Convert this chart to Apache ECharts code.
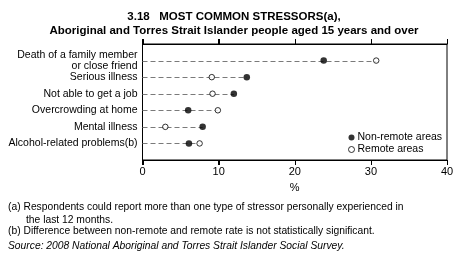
<!DOCTYPE html>
<html>
<head>
<meta charset="utf-8">
<script src="https://cdn.jsdelivr.net/npm/echarts@6/dist/echarts.min.js"></script>
<style>
  html, body { margin: 0; padding: 0; background: #fff; }
  #chart { width: 460px; height: 260px; }
</style>
</head>
<body>
<div id="chart"></div>
<script>
// stressor categories, top to bottom
var categories = [
    "Death of a family member\nor close friend",
    "Serious illness",
    "Not able to get a job",
    "Overcrowding at home",
    "Mental illness",
    "Alcohol-related problems(b)"
];
// percent values
var nonRemote = [23.8, 13.7, 12.0, 6.0, 7.9, 6.1];
var remote = [30.7, 9.1, 9.2, 9.9, 3.0, 7.5];
var xTicks = [0, 10, 20, 30, 40];

var font = "Liberation Sans";
var yMin = -1, yMax = 6;

function pairs(vals) {
    let out = [];
    for (let i = 0; i < vals.length; i++) {
        out.push([vals[i], i]);
    }
    return out;
}

// dashed guide runs from 0 to the bigger of the two values
var guideData = [];
for (let i = 0; i < categories.length; i++) {
    guideData.push([Math.max(nonRemote[i], remote[i]), i]);
}

var dom = document.getElementById("chart");
var myChart = echarts.init(dom, null, {renderer: "canvas"});

var option = {
    animation: false,
    backgroundColor: "#fff",
    textStyle: {fontFamily: font, color: "#000"},
    title: {
        text: "3.18   MOST COMMON STRESSORS(a),\nAboriginal and Torres Strait Islander people aged 15 years and over",
        left: 229,
        top: 5,
        textAlign: "center",
        textStyle: {fontFamily: font, fontSize: 11.5, fontWeight: "bold", color: "#000", lineHeight: 14}
    },
    grid: {
        left: 142.5,
        right: 13,
        top: 44,
        bottom: 100,
        show: true,
        borderColor: "#000",
        borderWidth: 1,
        backgroundColor: "transparent"
    },
    xAxis: [
        {
            type: "value",
            position: "bottom",
            min: xTicks[0],
            max: xTicks[xTicks.length - 1],
            interval: 10,
            axisLine: {show: true, onZero: false, lineStyle: {color: "#000", width: 1}},
            axisTick: {show: true, length: 5, lineStyle: {color: "#000"}},
            axisLabel: {fontFamily: font, fontSize: 11, color: "#000", margin: 6},
            splitLine: {show: false},
            name: "%",
            nameLocation: "middle",
            nameGap: 22,
            nameTextStyle: {fontFamily: font, fontSize: 11, color: "#000"}
        },
        {
            type: "value",
            position: "top",
            min: xTicks[0],
            max: xTicks[xTicks.length - 1],
            interval: 10,
            axisLine: {show: true, onZero: false, lineStyle: {color: "#000", width: 1}},
            axisTick: {show: true, length: 5, lineStyle: {color: "#000"}},
            axisLabel: {show: false},
            splitLine: {show: false}
        }
    ],
    yAxis: {
        type: "value",
        inverse: true,
        min: yMin,
        max: yMax,
        interval: 1,
        axisLine: {show: false},
        axisTick: {show: false},
        splitLine: {show: false},
        axisLabel: {
            fontFamily: font,
            fontSize: 10.5,
            color: "#000",
            margin: 5,
            lineHeight: 11,
            align: "right",
            formatter: function (v) {
                return categories[v] !== undefined ? categories[v] : "";
            }
        }
    },
    legend: {
        orient: "vertical",
        left: 343,
        top: 127,
        itemWidth: 6,
        itemHeight: 6,
        itemGap: 1,
        icon: "circle",
        itemStyle: {borderWidth: 1},
        textStyle: {fontFamily: font, fontSize: 10.5, color: "#000", padding: [0, 0, 0, -2]},
        data: ["Non-remote areas", "Remote areas"]
    },
    series: [
        {
            // outward ticks on the top and bottom frame lines
            type: "custom",
            name: "ticks",
            silent: true,
            clip: false,
            z: 5,
            data: xTicks.map(function (t) { return [t, yMin]; }),
            renderItem: function (params, api) {
                let top = api.coord([api.value(0), yMin]);
                let bot = api.coord([api.value(0), yMax]);
                let x = Math.round(top[0]) + 0.5;
                return {
                    type: "group",
                    children: [
                        {type: "line", shape: {x1: x, y1: top[1] - 5, x2: x, y2: top[1]}, style: {stroke: "#000", lineWidth: 1}},
                        {type: "line", shape: {x1: x, y1: bot[1], x2: x, y2: bot[1] + 5}, style: {stroke: "#000", lineWidth: 1}}
                    ]
                };
            }
        },
        {
            type: "custom",
            name: "guide",
            silent: true,
            z: 1,
            data: guideData,
            renderItem: function (params, api) {
                let a = api.coord([0, api.value(1)]);
                let b = api.coord([api.value(0), api.value(1)]);
                return {
                    type: "line",
                    shape: {x1: a[0], y1: Math.round(a[1]) + 0.5, x2: b[0], y2: Math.round(b[1]) + 0.5},
                    style: {stroke: "#7a7a7a", lineWidth: 1, lineDash: [5, 3]}
                };
            }
        },
        {
            type: "scatter",
            name: "Non-remote areas",
            z: 3,
            symbol: "circle",
            symbolSize: 6.5,
            itemStyle: {color: "#000"},
            data: pairs(nonRemote)
        },
        {
            type: "scatter",
            name: "Remote areas",
            z: 3,
            symbol: "circle",
            symbolSize: 5.5,
            itemStyle: {color: "#fff", borderColor: "#000", borderWidth: 1},
            data: pairs(remote)
        }
    ],
    graphic: [
        {
            type: "text", left: 8, top: 202,
            style: {text: "(a) Respondents could report more than one type of stressor personally experienced in", font: "10.3px " + font, fill: "#000"}
        },
        {
            type: "text", left: 26, top: 215,
            style: {text: "the last 12 months.", font: "10.3px " + font, fill: "#000"}
        },
        {
            type: "text", left: 8, top: 226,
            style: {text: "(b) Difference between non-remote and remote rate is not statistically significant.", font: "10.3px " + font, fill: "#000"}
        },
        {
            type: "text", left: 8, top: 241,
            style: {text: "Source: 2008 National Aboriginal and Torres Strait Islander Social Survey.", font: "italic 10.3px " + font, fill: "#000"}
        }
    ]
};

myChart.setOption(option);
</script>
</body>
</html>
